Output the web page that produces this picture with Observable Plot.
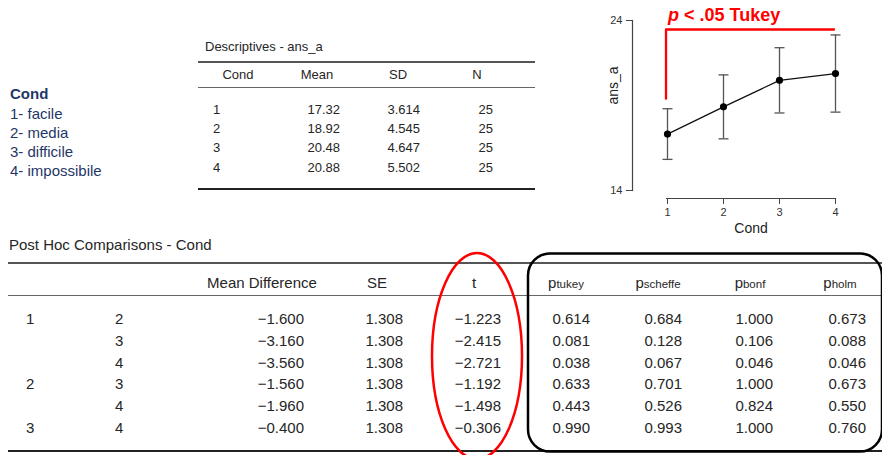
<!DOCTYPE html>
<html><head><meta charset="utf-8">
<script src="https://cdn.jsdelivr.net/npm/d3@7"></script>
<script src="https://cdn.jsdelivr.net/npm/@observablehq/plot@0.6"></script>
<style>
body{margin:0;background:#fff;}
#root{position:relative;width:882px;height:455px;overflow:hidden;font-family:"Liberation Sans",Arial,sans-serif;color:#262626;}
.t{position:absolute;white-space:nowrap;line-height:1;}
.hl{position:absolute;}
#chart{position:absolute;left:590px;top:0;}
#ann{position:absolute;left:0;top:0;pointer-events:none;}
</style></head><body><div id="root"></div>
<script>
// ---------- data ----------
const conds = [1, 2, 3, 4];
const condLabels = ["1- facile", "2- media", "3- difficile", "4- impossibile"];
const means = [17.32, 18.92, 20.48, 20.88];
const sds = [3.614, 4.545, 4.647, 5.502];
const ns = [25, 25, 25, 25];
const ciLower = [15.83, 17.04, 18.56, 18.61];
const ciUpper = [18.81, 20.80, 22.40, 23.15];
const yTicks = [14, 24];

const compA = ["1", "", "", "2", "", "3"];
const compB = ["2", "3", "4", "3", "4", "4"];
const meanDiff = [-1.600, -3.160, -3.560, -1.560, -1.960, -0.400];
const seVals = [1.308, 1.308, 1.308, 1.308, 1.308, 1.308];
const tVals = [-1.223, -2.415, -2.721, -1.192, -1.498, -0.306];
const pTukey = [0.614, 0.081, 0.038, 0.633, 0.443, 0.990];
const pScheffe = [0.684, 0.128, 0.067, 0.701, 0.526, 0.993];
const pBonf = [1.000, 0.106, 0.046, 1.000, 0.824, 1.000];
const pHolm = [0.673, 0.088, 0.046, 0.673, 0.550, 0.760];

// significance bracket (Cond 1 vs 4)
const bracketCond = [1, 1, 4];
const bracketY = [19.4, 23.47, 23.47];

// ---------- helpers ----------
const root = document.getElementById("root");
const f3 = d3.format(".3f"), f2 = d3.format(".2f");
function txt(s, x, y, o = {}) {
  const size = o.size || 13;
  const d = document.createElement("div");
  d.className = "t";
  d.style.fontSize = size + "px";
  d.style.left = x + "px";
  d.style.top = (y - 0.49 * size) + "px";
  if (o.align === "right") d.style.transform = "translateX(-100%)";
  else if (o.align === "center") d.style.transform = "translateX(-50%)";
  if (o.weight) d.style.fontWeight = o.weight;
  if (o.color) d.style.color = o.color;
  if (o.html) d.innerHTML = s; else d.textContent = s;
  root.appendChild(d);
  return d;
}
function hline(x1, x2, y, w, c) {
  const d = document.createElement("div");
  d.className = "hl";
  d.style.left = x1 + "px";
  d.style.width = (x2 - x1) + "px";
  d.style.top = (y - w / 2) + "px";
  d.style.height = w + "px";
  d.style.background = c;
  root.appendChild(d);
}

// ---------- legend ----------
const navy = "#1f3766";
txt("Cond", 10, 93, {size: 15, weight: "bold", color: navy});
condLabels.forEach((l, i) => txt(l, 10, [113, 132, 151, 170][i], {size: 15, color: navy}));

// ---------- descriptives ----------
txt("Descriptives - ans_a", 205, 46, {size: 13});
hline(198, 535, 62, 1.5, "#555");
hline(198, 535, 87, 1, "#666");
hline(198, 535, 189, 2.2, "#222");
txt("Cond", 238, 74, {align: "center"});
txt("Mean", 317, 74, {align: "center"});
txt("SD", 398, 74, {align: "center"});
txt("N", 477, 74, {align: "center"});
const dRows = [109, 128, 147, 167];
conds.forEach((c, i) => {
  txt(String(c), 213, dRows[i]);
  txt(f2(means[i]), 340, dRows[i], {align: "right"});
  txt(f3(sds[i]), 420, dRows[i], {align: "right"});
  txt(String(ns[i]), 493, dRows[i], {align: "right"});
});

// ---------- post hoc ----------
txt("Post Hoc Comparisons - Cond", 9, 244, {size: 15});
hline(8, 882, 263, 1.5, "#555");
hline(8, 882, 295, 1, "#666");
hline(8, 882, 451, 2.2, "#222");
const hy = 282;
txt("Mean Difference", 262, hy, {size: 15, align: "center"});
txt("SE", 377, hy, {size: 15, align: "center"});
txt("t", 474, hy, {size: 15, align: "center"});
const pHead = (s) => "p<span style='font-size:11.5px'>" + s + "</span>";
txt(pHead("tukey"), 566, hy, {size: 15, align: "center", html: true});
txt(pHead("scheffe"), 658, hy, {size: 15, align: "center", html: true});
txt(pHead("bonf"), 750, hy, {size: 15, align: "center", html: true});
txt(pHead("holm"), 840, hy, {size: 15, align: "center", html: true});
const pRows = [318, 340, 362, 383, 405, 427];
pRows.forEach((y, i) => {
  txt(compA[i], 26, y, {size: 15});
  txt(compB[i], 115, y, {size: 15});
  txt(f3(meanDiff[i]), 304, y, {size: 15, align: "right"});
  txt(f3(seVals[i]), 403, y, {size: 15, align: "right"});
  txt(f3(tVals[i]), 501, y, {size: 15, align: "right"});
  txt(f3(pTukey[i]), 590, y, {size: 15, align: "right"});
  txt(f3(pScheffe[i]), 682, y, {size: 15, align: "right"});
  txt(f3(pBonf[i]), 773, y, {size: 15, align: "right"});
  txt(f3(pHolm[i]), 866, y, {size: 15, align: "right"});
});

// ---------- annotation shapes ----------
const ns_ = "http://www.w3.org/2000/svg";
const ann = document.createElementNS(ns_, "svg");
ann.setAttribute("id", "ann");
ann.setAttribute("width", 882); ann.setAttribute("height", 455);
ann.innerHTML =
  '<ellipse cx="477" cy="356" rx="45" ry="103" fill="none" stroke="#ff0000" stroke-width="2.5"/>' +
  '<rect x="528" y="253.5" width="354" height="198" rx="22" ry="22" fill="none" stroke="#000" stroke-width="2.5"/>';
root.appendChild(ann);

// ---------- chart ----------
const stats = conds.map((c, i) => ({cond: c, mean: means[i], lo: ciLower[i], hi: ciUpper[i]}));
const bracket = bracketCond.map((c, i) => ({cond: c, v: bracketY[i]}));
const capSymbol = {draw(ctx, size) { const w = Math.sqrt(size / Math.PI); ctx.moveTo(-w, 0); ctx.lineTo(w, 0); }};
const chart = Plot.plot({
  width: 292, height: 240,
  marginLeft: 42, marginRight: 47, marginTop: 20, marginBottom: 42,
  style: {fontFamily: "'Liberation Sans', Arial, sans-serif", fontSize: "11px", color: "#333", background: "transparent", overflow: "visible"},
  x: {type: "point", domain: conds, range: [76, 245], padding: 0},
  y: {domain: [14, 24], range: [190, 20]},
  marks: [
    Plot.frame({anchor: "left", insetBottom: 8, stroke: "#444", strokeWidth: 1.2}),
    Plot.frame({anchor: "bottom", insetLeft: 34, stroke: "#444", strokeWidth: 1.2}),
    Plot.axisY({ticks: yTicks, tickSize: 6, tickPadding: 4, label: null, stroke: "#444"}),
    Plot.axisX({anchor: "bottom", tickSize: 6, tickPadding: 4, label: null, stroke: "#444"}),
    Plot.text(["ans_a"], {frameAnchor: "left", rotate: -90, dx: -19, dy: -5, fontSize: 14, fill: "#222"}),
    Plot.text(["Cond"], {frameAnchor: "bottom", dx: 17, dy: 34, fontSize: 14, fill: "#222"}),
    Plot.ruleX(stats, {x: "cond", y1: "lo", y2: "hi", stroke: "#555", strokeWidth: 1.3}),
    Plot.dot(stats, {x: "cond", y: "lo", symbol: capSymbol, r: 5, stroke: "#555", strokeWidth: 1.3}),
    Plot.dot(stats, {x: "cond", y: "hi", symbol: capSymbol, r: 5, stroke: "#555", strokeWidth: 1.3}),
    Plot.line(stats, {x: "cond", y: "mean", stroke: "#111", strokeWidth: 1.3}),
    Plot.dot(stats, {x: "cond", y: "mean", r: 3.6, fill: "#000", stroke: "none"}),
    Plot.line(bracket, {x: "cond", y: "v", stroke: "#ff0000", strokeWidth: 2.3, dx: -1.5, curve: "linear"})
  ]
});
chart.id = "chart";
root.appendChild(chart);

// red annotation title
txt("<i>p</i> &lt; .05 Tukey", 668, 15, {size: 18, weight: "bold", color: "#ff0000", html: true});
</script></body></html>
